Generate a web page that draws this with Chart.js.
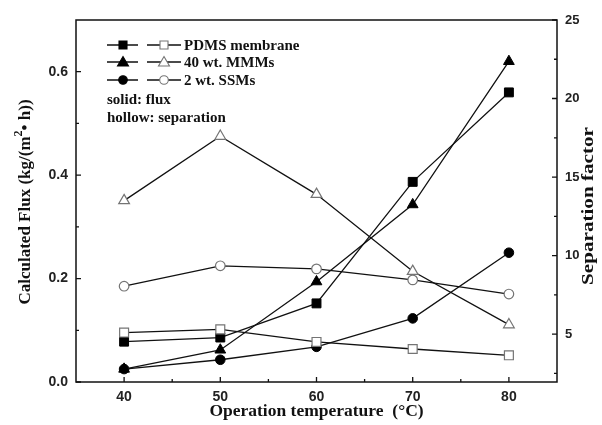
<!DOCTYPE html>
<html><head><meta charset="utf-8">
<script src="https://cdn.jsdelivr.net/npm/chart.js@4/dist/chart.umd.min.js"></script>
<style>html,body{margin:0;padding:0;background:#fff}#wrap{width:602px;height:425px}</style>
</head><body><div id="wrap"><canvas id="c"></canvas></div>
<script>
// Operation temperature (°C)
const temperatures = [40, 50, 60, 70, 80];
// Calculated flux, kg/(m2·h) — solid markers, left axis
const pdmsFlux = [0.078, 0.086, 0.152, 0.387, 0.560];
const mmmFlux  = [0.025, 0.062, 0.194, 0.343, 0.620];
const ssmFlux  = [0.025, 0.043, 0.068, 0.123, 0.250];
// Separation factor — hollow markers, right axis
const pdmsSep = [5.1, 5.3, 4.5, 4.05, 3.65];
const mmmSep  = [13.5, 17.6, 13.9, 9.0, 5.6];
const ssmSep  = [8.05, 9.35, 9.15, 8.45, 7.55];

const seriesNames = ['PDMS membrane', '40 wt. MMMs', '2 wt. SSMs'];
const seriesShapes = ['rect', 'triangle', 'circle'];
const noteLines = ['solid: flux', 'hollow: separation'];
const xTicks = [40, 45, 50, 55, 60, 65, 70, 75, 80];
const fluxTicks = [0, 0.1, 0.2, 0.3, 0.4, 0.5, 0.6];
const sepTicks = [2.5, 5, 7.5, 10, 12.5, 15, 17.5, 20, 22.5, 25];

const SERIF = '"Liberation Serif", "Times New Roman", serif';
const SANS = '"Liberation Sans", Arial, sans-serif';
const HOLLOW = '#747474';
const markerRadius = { rect: 6.3, triangle: 6.2, circle: 4.8 };

const pts = vals => temperatures.map((t, i) => ({ x: t, y: vals[i] }));

function solid(label, vals, shape) {
  return {
    label, data: pts(vals), yAxisID: 'yL',
    borderColor: '#111', borderWidth: 1.3,
    pointStyle: shape, pointRadius: markerRadius[shape],
    pointBackgroundColor: '#000', pointBorderColor: '#000', pointBorderWidth: 1,
    tension: 0
  };
}
function hollow(label, vals, shape) {
  return {
    label, data: pts(vals), yAxisID: 'yR',
    borderColor: '#111', borderWidth: 1.3,
    pointStyle: shape, pointRadius: markerRadius[shape],
    pointBackgroundColor: '#fff', pointBorderColor: HOLLOW, pointBorderWidth: 1.2,
    tension: 0
  };
}

// Inward tick marks, frame, axis titles and the legend box
const decorations = {
  id: 'decorations',
  afterDatasetsDraw(chart) {
    const { ctx, chartArea: a, scales } = chart;
    ctx.save();
    ctx.strokeStyle = '#111';
    ctx.lineWidth = 1.5;
    ctx.strokeRect(a.left, a.top, a.right - a.left, a.bottom - a.top);

    ctx.lineWidth = 1.3;
    ctx.beginPath();
    xTicks.forEach(v => {
      const px = scales.x.getPixelForValue(v);
      const len = v % 10 === 0 ? 5 : 3;
      ctx.moveTo(px, a.bottom); ctx.lineTo(px, a.bottom - len);
    });
    fluxTicks.forEach((v, i) => {
      const py = scales.yL.getPixelForValue(v);
      const len = i % 2 === 0 ? 5 : 3;
      ctx.moveTo(a.left, py); ctx.lineTo(a.left + len, py);
    });
    sepTicks.forEach(v => {
      const py = scales.yR.getPixelForValue(v);
      const len = v % 5 === 0 ? 5 : 3;
      ctx.moveTo(a.right, py); ctx.lineTo(a.right - len, py);
    });
    ctx.stroke();

    // Axis titles
    ctx.fillStyle = '#111';
    ctx.textBaseline = 'middle';
    ctx.font = 'bold 17.5px ' + SERIF;
    ctx.textAlign = 'center';
    ctx.fillText('Operation temperature  (°C)', (a.left + a.right) / 2, 411);

    // Left title with superscript 2
    const partA = 'Calculated Flux (kg/(m', partB = '2', partC = '• h))';
    ctx.save();
    ctx.translate(26, 202);
    ctx.rotate(-Math.PI / 2);
    ctx.font = 'bold 17px ' + SERIF;
    const wA = ctx.measureText(partA).width, wC = ctx.measureText(partC).width;
    ctx.font = 'bold 12px ' + SERIF;
    const wB = ctx.measureText(partB).width;
    const x0 = -(wA + wB + wC) / 2;
    ctx.textAlign = 'left';
    ctx.font = 'bold 17px ' + SERIF;
    ctx.fillText(partA, x0, 0);
    ctx.font = 'bold 12px ' + SERIF;
    ctx.fillText(partB, x0 + wA, -7);
    ctx.font = 'bold 17px ' + SERIF;
    ctx.fillText(partC, x0 + wA + wB, 0);
    ctx.restore();

    // Right title (wide lettering)
    ctx.save();
    ctx.translate(589, 206);
    ctx.rotate(-Math.PI / 2);
    ctx.scale(1.28, 1);
    ctx.font = 'bold 16.5px ' + SERIF;
    ctx.textAlign = 'center';
    ctx.fillText('Separation factor', 0, 0);
    ctx.restore();

    // Legend
    const rowY = [45, 62, 80];
    ctx.font = 'bold 15px ' + SERIF;
    ctx.textAlign = 'left';
    seriesNames.forEach((name, i) => {
      const y = rowY[i], shape = seriesShapes[i];
      ctx.strokeStyle = '#111'; ctx.lineWidth = 1.3;
      ctx.beginPath();
      ctx.moveTo(107, y); ctx.lineTo(138, y);
      ctx.moveTo(147, y); ctx.lineTo(181, y);
      ctx.stroke();
      drawMarker(ctx, shape, 123, y, '#000', '#000');
      drawMarker(ctx, shape, 164, y, '#fff', HOLLOW);
      ctx.fillStyle = '#111';
      ctx.fillText(name, 184, y + 1);
    });
    ctx.fillText(noteLines[0], 107, 100);
    ctx.fillText(noteLines[1], 107, 118);
    ctx.restore();
  }
};

function drawMarker(ctx, shape, x, y, fill, stroke) {
  ctx.save();
  ctx.fillStyle = fill; ctx.strokeStyle = stroke; ctx.lineWidth = 1.1;
  ctx.beginPath();
  if (shape === 'rect') {
    ctx.rect(x - 4, y - 4, 8, 8);
  } else if (shape === 'triangle') {
    ctx.moveTo(x, y - 5.5); ctx.lineTo(x + 5.5, y + 4); ctx.lineTo(x - 5.5, y + 4); ctx.closePath();
  } else {
    ctx.arc(x, y, 4.3, 0, Math.PI * 2);
  }
  ctx.fill(); ctx.stroke();
  ctx.restore();
}

const tickFont = { family: SANS, size: 14, weight: 'bold' };

new Chart(document.getElementById('c'), {
  type: 'line',
  data: {
    datasets: [
      hollow(seriesNames[0] + ' separation', pdmsSep, 'rect'),
      hollow(seriesNames[1] + ' separation', mmmSep, 'triangle'),
      hollow(seriesNames[2] + ' separation', ssmSep, 'circle'),
      solid(seriesNames[0] + ' flux', pdmsFlux, 'rect'),
      solid(seriesNames[1] + ' flux', mmmFlux, 'triangle'),
      solid(seriesNames[2] + ' flux', ssmFlux, 'circle')
    ]
  },
  options: {
    responsive: true, maintainAspectRatio: false, animation: false,
    layout: { padding: { top: 20, left: 0, right: 0, bottom: 0 } },
    plugins: { legend: { display: false }, tooltip: { enabled: false } },
    scales: {
      x: {
        type: 'linear', min: 35, max: 85,
        afterBuildTicks: s => { s.ticks = xTicks.map(v => ({ value: v })); },
        afterFit: s => { s.height = 43; },
        grid: { display: false, drawTicks: false },
        border: { display: false },
        ticks: {
          padding: 7, color: '#222', font: tickFont, maxRotation: 0, autoSkip: false,
          callback: v => (v % 10 === 0 ? String(v) : '')
        }
      },
      yL: {
        type: 'linear', position: 'left', min: 0, max: 0.7,
        afterBuildTicks: s => { s.ticks = fluxTicks.map(v => ({ value: v })); },
        afterFit: s => { s.width = 76; },
        grid: { display: false, drawTicks: false },
        border: { display: false },
        ticks: {
          padding: 8, color: '#222', font: tickFont, autoSkip: false,
          callback: (v, i) => (i % 2 === 0 ? v.toFixed(1) : '')
        }
      },
      yR: {
        type: 'linear', position: 'right', min: 1.95, max: 25,
        afterBuildTicks: s => { s.ticks = sepTicks.map(v => ({ value: v })); },
        afterFit: s => { s.width = 45; },
        grid: { display: false, drawTicks: false },
        border: { display: false },
        ticks: {
          padding: 8, color: '#222', font: { family: SANS, size: 13, weight: 'bold' }, autoSkip: false,
          callback: v => (v % 5 === 0 ? String(v) : '')
        }
      }
    }
  },
  plugins: [decorations]
});
</script>
</body></html>
